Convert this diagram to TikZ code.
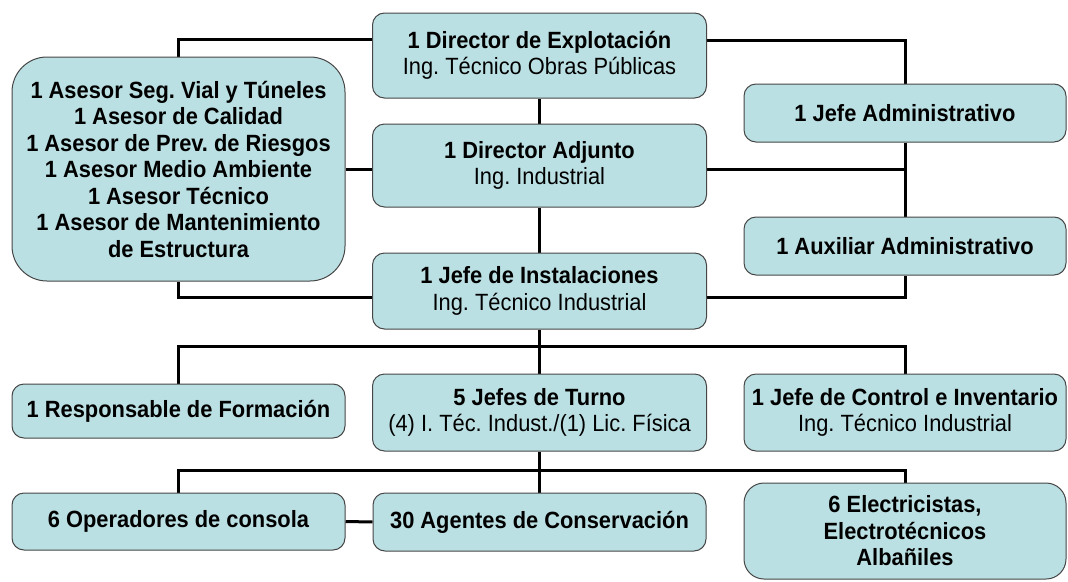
\documentclass[tikz,border=0pt]{standalone}
\usepackage{fontspec}
\setmainfont{Liberation Sans}[FakeStretch=0.93]
\usetikzlibrary{backgrounds}
\frenchspacing
\definecolor{boxfill}{RGB}{187,224,227}
\definecolor{boxline}{RGB}{70,70,70}
\begin{document}
\begin{tikzpicture}[x=1pt,y=-1pt,
  box/.style={draw=boxline, fill=boxfill, line width=1pt, rounded corners=12pt,
    align=center, inner sep=0pt, font=\fontsize{23.5}{26.5}\selectfont},
  conn/.style={line width=3pt, black}]
\useasboundingbox (0,0) rectangle (1068,581);
\node[box, minimum width=334pt, minimum height=85pt] (dexp) at (539.5,55.5)
  {\bfseries 1 Director de Explotación\\Ing. Técnico Obras Públicas};
\node[box, minimum width=334pt, minimum height=83pt] (dadj) at (539.5,165.5)
  {\bfseries 1 Director Adjunto\\Ing. Industrial};
\node[box, minimum width=334pt, minimum height=76pt] (jins) at (539.5,291)
  {\bfseries 1 Jefe de Instalaciones\\Ing. Técnico Industrial};
\node[box, rounded corners=35pt, minimum width=333pt, minimum height=224pt] (ases) at (178.5,169)
  {\bfseries 1 Asesor Seg. Vial y Túneles\\\bfseries 1 Asesor de Calidad\\\bfseries 1 Asesor de Prev. de Riesgos\\\bfseries 1 Asesor Medio Ambiente\\\bfseries 1 Asesor Técnico\\\bfseries 1 Asesor de Mantenimiento\\\bfseries de Estructura};
\node[box, minimum width=322pt, minimum height=58pt] (jadm) at (905,113)
  {\bfseries 1 Jefe Administrativo};
\node[box, minimum width=322pt, minimum height=58pt] (aux) at (905,246)
  {\bfseries 1 Auxiliar Administrativo};
\node[box, minimum width=333pt, minimum height=54pt] (rform) at (178.5,411)
  {\bfseries 1 Responsable de Formación};
\node[box, minimum width=334pt, minimum height=77pt] (jtur) at (539.5,412.5)
  {\bfseries 5 Jefes de Turno\\(4) I. Téc. Indust./(1) Lic. Física};
\node[box, minimum width=322pt, minimum height=77pt] (jctl) at (905,412.5)
  {\bfseries 1 Jefe de Control e Inventario\\Ing. Técnico Industrial};
\node[box, minimum width=333pt, minimum height=57pt] (oper) at (178.5,521.5)
  {\bfseries 6 Operadores de consola};
\node[box, minimum width=333pt, minimum height=58pt] (agen) at (539.5,522)
  {\bfseries 30 Agentes de Conservación};
\node[box, rounded corners=20pt, minimum width=322pt, minimum height=96pt] (elec) at (905,531)
  {\bfseries 6 Electricistas,\\\bfseries Electrotécnicos\\\bfseries Albañiles};
\coordinate (b1) at (539.5,346);
\coordinate (b2) at (539.5,470);
\begin{pgfonlayer}{background}
\draw[conn] (dexp.west) ++(0,-16) -| (ases.north);
\draw[conn] (dexp.east) ++(0,-15) -| (jadm.north);
\draw[conn] (dexp.south) -- (dadj.north);
\draw[conn] (dadj.south) -- (jins.north);
\draw[conn] (ases.east) -- (dadj.west |- ases.east);
\draw[conn] (dadj.east |- ases.east) -- (jadm.south |- ases.east);
\draw[conn] (jadm.south) -- (aux.north);
\draw[conn] (jins.west) ++(0,6) -| (ases.south);
\draw[conn] (jins.east) ++(0,6) -| (aux.south);
\draw[conn] (jins.south) -- (jtur.north);
\draw[conn] (rform.north) |- (b1) -| (jctl.north);
\draw[conn] (jtur.south) -- (agen.north);
\draw[conn] (oper.north) |- (b2) -| (elec.north);
\draw[conn] (oper.east) -- (agen.west);
\end{pgfonlayer}
\end{tikzpicture}
\end{document}
